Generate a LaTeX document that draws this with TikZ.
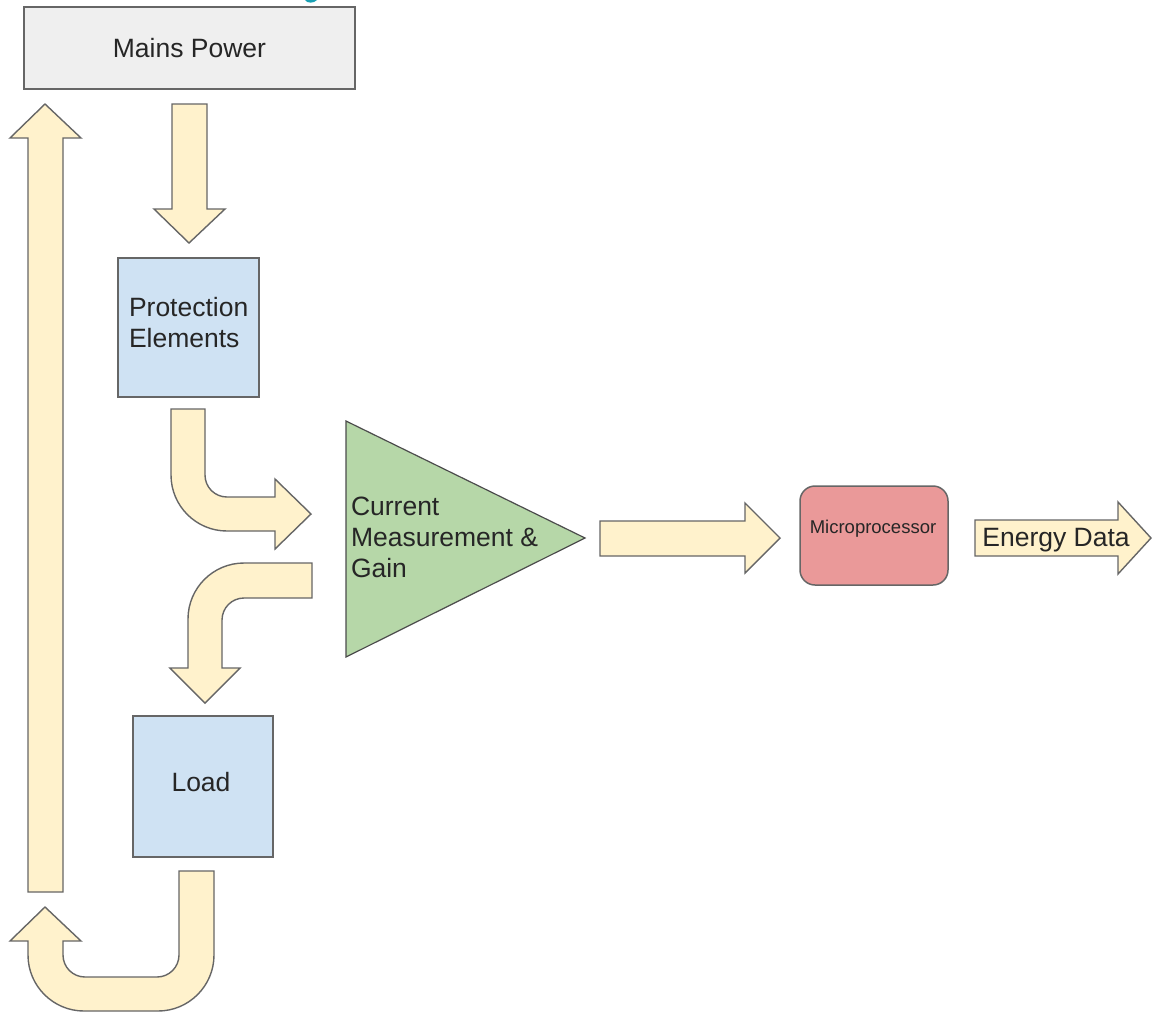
\documentclass[tikz,border=0pt]{standalone}
\usepackage{fontspec}
\setmainfont{Liberation Sans}
\begin{document}
\begin{tikzpicture}[x=1pt,y=-1pt,
  every node/.style={inner sep=0pt,outer sep=0pt},
  lbl/.style={font=\fontsize{26.5}{31}\selectfont,text=black!85,align=left},
  smalllbl/.style={font=\fontsize{18.5}{22}\selectfont,text=black!85},
  boxstyle/.style={draw=black!60,line width=1.5pt,rectangle},
  blockarrow/.style={draw=black!60,line width=1.4pt,fill=arrowfill,line join=miter}]
\definecolor{arrowfill}{HTML}{FFF2CC}
\definecolor{greyfill}{HTML}{EFEFEF}
\definecolor{bluefill}{HTML}{CFE2F3}
\definecolor{greenfill}{HTML}{B6D7A8}
\definecolor{redfill}{HTML}{EA9999}
\definecolor{titlecyan}{HTML}{1AA0B4}
\useasboundingbox (0,0) rectangle (1153,1013);
\fill[white] (0,0) rectangle (1153,1013);
% cut-off title fragment
\fill[titlecyan] (305,0) .. controls (307,3.5) and (314,3.5) .. (317,0) -- cycle;

% boxes
\node[boxstyle,fill=greyfill,minimum width=331pt,minimum height=82pt] (mains) at (189.5,48) {};
\node[lbl] (mainslbl) at (mains.center) {Mains Power};
\node[boxstyle,fill=bluefill,minimum width=141pt,minimum height=139pt] (prot) at (188.5,327.5) {};
\node[lbl,anchor=west] (protlbl) at (129,322.5) {Protection\\Elements};
\node[boxstyle,fill=bluefill,minimum width=140pt,minimum height=141pt] (load) at (203,786.5) {};
\node[lbl] (loadlbl) at (201,782) {Load};
\node[boxstyle,fill=redfill,rounded corners=15pt,minimum width=148pt,minimum height=99pt] (mcu) at (874,535.5) {};
\node[smalllbl] (mculbl) at (873,529) {Microprocessor};

% amplifier triangle
\coordinate (tA) at (346,421);
\coordinate (tB) at (585,538);
\coordinate (tC) at (346,657);
\draw[draw=black!70,line width=1.2pt,fill=greenfill,line join=miter] (tA) -- (tB) -- (tC) -- cycle;
\node[lbl,anchor=west] (amplbl) at (351,537) {Current\\Measurement \&\\Gain};

% block arrows
% return arrow up the left side
\draw[blockarrow] (28,892) -- (28,138) -- (10,138) -- (45,104) -- (81,138) -- (63,138) -- (63,892) -- cycle;
% mains -> protection
\draw[blockarrow] (172,104) -- (207,104) -- (207,209) -- (225,209) -- (189,243) -- (154,209) -- (172,209) -- cycle;
% protection -> amplifier
\draw[blockarrow] (171,409) -- (205,409) -- (205,475) .. controls (205,487.2) and (214.8,497) .. (227,497) -- (275,497) -- (275,479) -- (311,514) -- (275,549) -- (275,531) -- (227,531) .. controls (196.1,531) and (171,505.9) .. (171,475) -- cycle;
% amplifier -> load
\draw[blockarrow] (312,563) -- (312,598) -- (244,598) .. controls (231.85,598) and (222,607.85) .. (222,620) -- (222,668) -- (240,668) -- (205,703) -- (170,668) -- (188,668) -- (188,619) .. controls (188,588.1) and (213.1,563) .. (244,563) -- cycle;
% load -> return (U turn)
\draw[blockarrow] (179,871) -- (214,871) -- (214,955) .. controls (214,985.9) and (188.9,1011) .. (158,1011) -- (84,1011) .. controls (53.1,1011) and (28,985.9) .. (28,955) -- (28,941) -- (10,941) -- (45,907) -- (81,941) -- (63,941) -- (63,955) .. controls (63,967.15) and (72.85,977) .. (85,977) -- (157,977) .. controls (169.15,977) and (179,967.15) .. (179,955) -- cycle;
% amplifier -> microprocessor
\draw[blockarrow] (600,521) -- (745,521) -- (745,503) -- (780,538) -- (745,573) -- (745,556) -- (600,556) -- cycle;
% energy data output
\draw[blockarrow] (975,520) -- (1118,520) -- (1118,502) -- (1151,538) -- (1118,574) -- (1118,556) -- (975,556) -- cycle;
\node[lbl] (energylbl) at (1056,540) {Energy Data};
\end{tikzpicture}
\end{document}
